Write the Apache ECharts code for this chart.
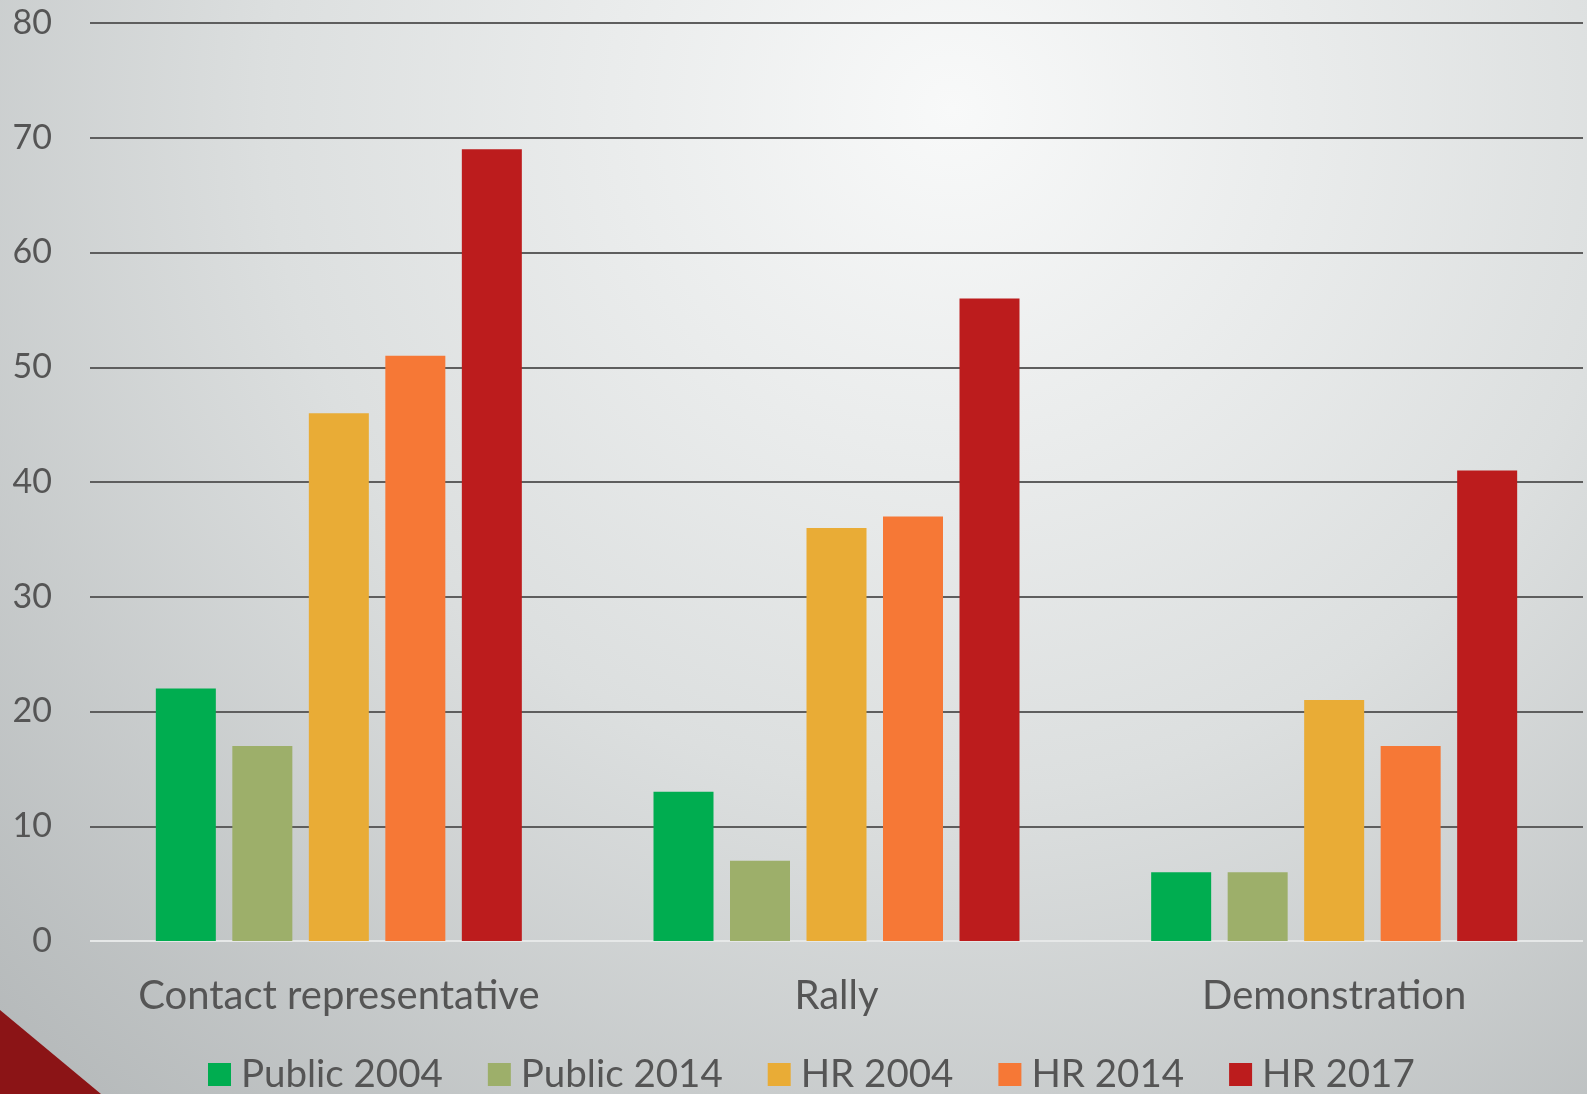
<!DOCTYPE html>
<html>
<head>
<meta charset="utf-8">
<script src="https://cdn.jsdelivr.net/npm/echarts@6/dist/echarts.min.js"></script>
<style>
  html, body { margin: 0; padding: 0; }
  #myChart { width: 1587px; height: 1094px; }
</style>
</head>
<body>
<div id="myChart"></div>
<script>
// 数据
var categories = ['Contact representative', 'Rally', 'Demonstration']
var seriesNames = ['Public 2004', 'Public 2014', 'HR 2004', 'HR 2014', 'HR 2017']
var public2004 = [22, 13, 6]
var public2014 = [17, 7, 6]
var hr2004 = [46, 36, 21]
var hr2014 = [51, 37, 17]
var hr2017 = [69, 56, 41]
var yTicks = [0, 10, 20, 30, 40, 50, 60, 70, 80]

var colors = ['#00ad50', '#9daf6a', '#e9ac36', '#f67836', '#bc1c1d']
var values = [public2004, public2014, hr2004, hr2014, hr2017]

// 第一条线(0)是浅色，其余是深灰
var gridColors = yTicks.map(function (t) { return t === 0 ? '#e6e8e8' : '#5e5e5e' })

var option = {
  backgroundColor: {
    type: 'radial',
    x: 0.6,
    y: 0.1,
    r: 1.25,
    colorStops: [
      { offset: 0, color: '#f8f9f9' },
      { offset: 0.5, color: '#dcdfdf' },
      { offset: 1, color: '#b3b7b8' },
    ],
  },
  textStyle: { fontFamily: 'Lato' },
  grid: { left: 90, right: 4, top: 23, bottom: 153, containLabel: false },
  legend: {
    data: seriesNames,
    left: 203,
    top: 1050,
    icon: 'rect',
    itemWidth: 23,
    itemHeight: 23,
    itemGap: 45,
    textStyle: { color: '#555', fontSize: 38.5, padding: [0, 0, 0, 5] },
  },
  xAxis: {
    type: 'category',
    data: categories,
    axisLine: { show: false },
    axisTick: { show: false },
    axisLabel: { color: '#555', fontSize: 40, margin: 35, interval: 0 },
  },
  yAxis: {
    type: 'value',
    min: 0,
    max: 80,
    interval: 10,
    axisLine: { show: false },
    axisTick: { show: false },
    axisLabel: { color: '#555', fontSize: 34, margin: 38 },
    splitLine: { lineStyle: { color: gridColors, width: 2 } },
  },
  series: seriesNames.map(function (name, i) {
    return {
      name: name,
      type: 'bar',
      data: values[i],
      barWidth: 60,
      barGap: '27.5%',
      itemStyle: { color: colors[i] },
    }
  }),
  graphic: [
    {
      type: 'polygon',
      shape: { points: [[0, 1010], [101, 1094], [0, 1094]] },
      style: { fill: '#8b1416' },
      silent: true,
    },
  ],
}

var chart = echarts.init(document.getElementById('myChart'))
chart.setOption(option)
window.addEventListener('resize', function () { chart.resize() })
</script>
</body>
</html>
